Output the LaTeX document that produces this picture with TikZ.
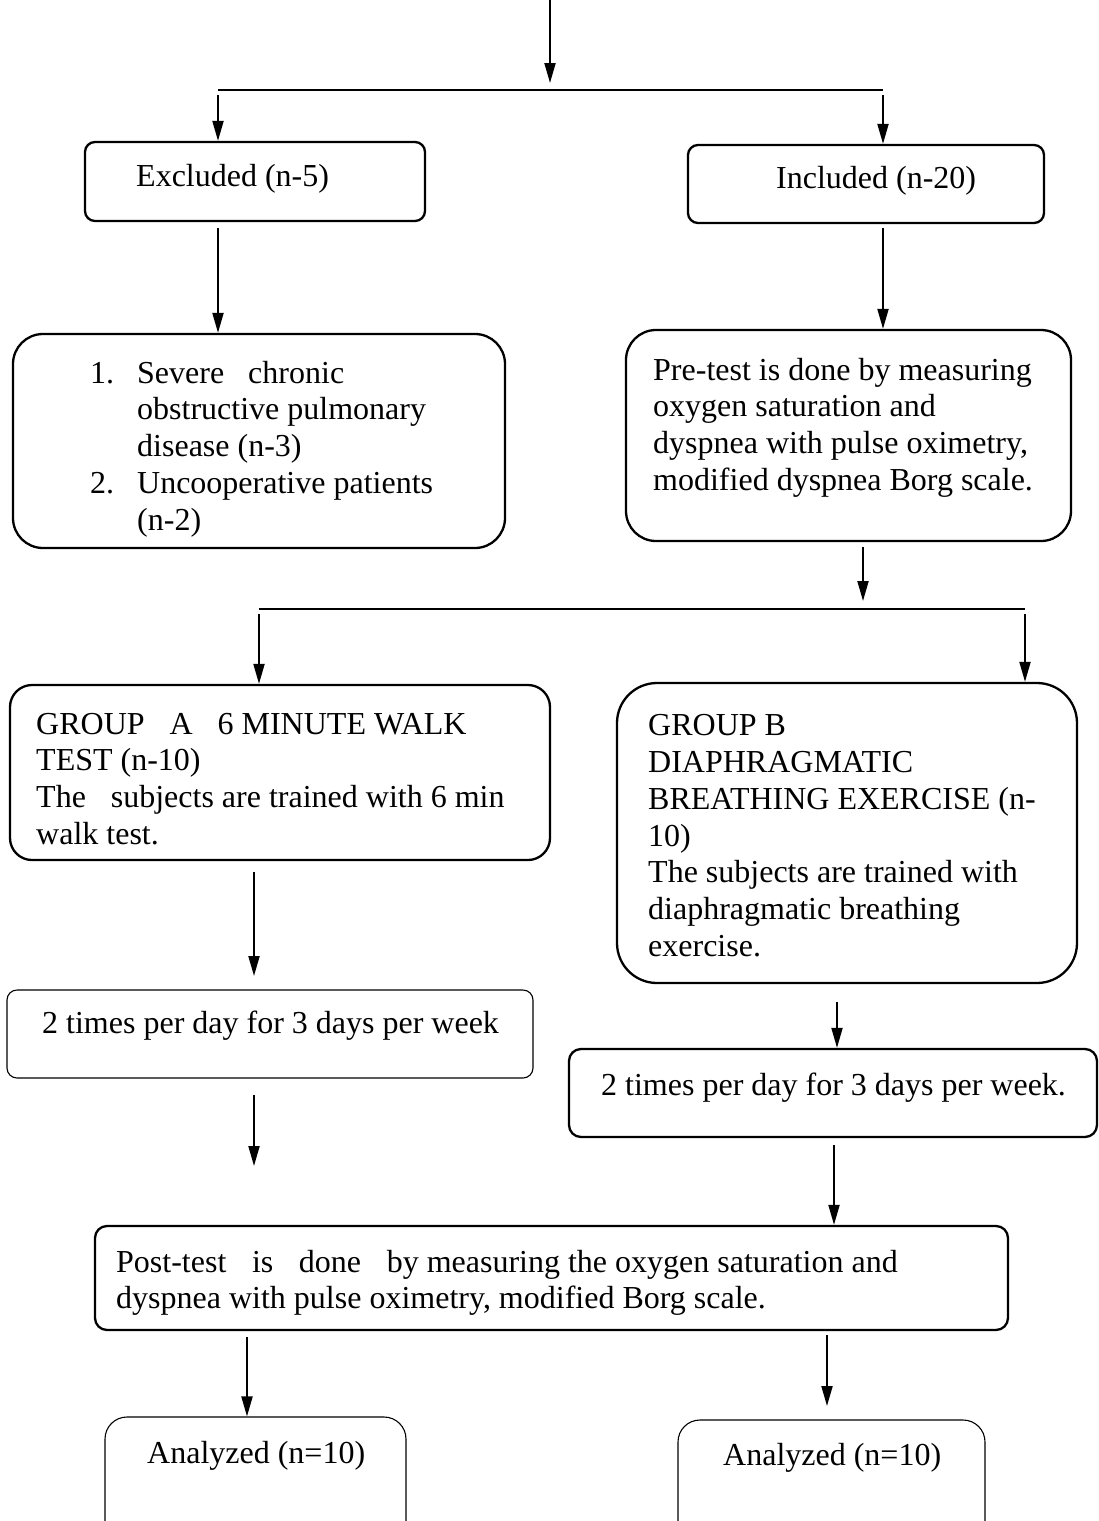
\documentclass[tikz,border=0pt]{standalone}
\usepackage{fontspec}
\setmainfont{Liberation Serif}
\usetikzlibrary{arrows.meta,calc}
\begin{document}
\begin{tikzpicture}[x=1pt,y=-1pt,
  box/.style={draw, line width=2.3pt, rounded corners=#1, inner sep=0pt},
  box/.default=10pt,
  thinbox/.style={draw, line width=1.1pt, rounded corners=#1, inner sep=0pt},
  thinbox/.default=10pt,
  txt/.style={inner sep=0pt, align=left, anchor=base west, font=\fontsize{32}{36.8}\selectfont},
  arr/.style={line width=2pt, -{Triangle[length=20pt,width=11pt]}},
  ln/.style={line width=2.5pt}]
\useasboundingbox (0,0) rectangle (1099,1521);
\clip (0,0) rectangle (1099,1521);

% boxes
\node[box, minimum width=340pt, minimum height=79pt] (excl) at (255,181.5) {};
\node[box, minimum width=356pt, minimum height=78pt] (incl) at (866,184) {};
\node[box=30pt, minimum width=492pt, minimum height=214pt] (list) at (259,441) {};
\node[box=30pt, minimum width=445pt, minimum height=211pt] (pre) at (848.5,435.5) {};
\node[box=22pt, minimum width=540pt, minimum height=175pt] (ga) at (280,772.5) {};
\node[box=40pt, minimum width=460pt, minimum height=300pt] (gb) at (847,833) {};
\node[thinbox, minimum width=526pt, minimum height=88pt] (ta) at (270,1034) {};
\node[box=12pt, minimum width=528pt, minimum height=88pt] (tb) at (833,1093) {};
\node[box=12pt, minimum width=913pt, minimum height=104pt] (post) at (551.5,1278) {};
\node[thinbox=22pt, minimum width=301pt, minimum height=128pt] (an1) at (255.5,1481) {};
\node[thinbox=22pt, minimum width=307pt, minimum height=125pt] (an2) at (831.5,1482.5) {};

% texts (anchor = baseline of the last line)
\node[txt] (excltxt) at (136,186) {Excluded (n-5)};
\node[txt] (incltxt) at (776,188) {Included (n-20)};
\node[txt] (listtxt) at (137,530.2) {\llap{1.\hspace{23pt}}Severe\hspace{0.75em}chronic\\obstructive pulmonary\\disease (n-3)\\\llap{2.\hspace{23pt}}Uncooperative patients\\(n-2)};
\node[txt] (pretxt) at (653,490.4) {Pre-test is done by measuring\\oxygen saturation and\\dyspnea with pulse oximetry,\\modified dyspnea Borg scale.};
\node[txt] (gatxt) at (36,844.5) {GROUP\hspace{0.78em}A\hspace{0.78em}6 MINUTE WALK\\TEST (n-10)\\The\hspace{0.78em}subjects are trained with 6 min\\walk test.};
\node[txt] (gbtxt) at (648,956.5) {GROUP B\\DIAPHRAGMATIC\\BREATHING EXERCISE (n-\\10)\\The subjects are trained with\\diaphragmatic breathing\\exercise.};
\node[txt] (tatxt) at (42,1033) {2 times per day for 3 days per week};
\node[txt] (tbtxt) at (601,1095) {2 times per day for 3 days per week.};
\node[txt] (posttxt) at (116,1308.8) {Post-test\hspace{0.8em}is\hspace{0.8em}done\hspace{0.8em}by measuring the oxygen saturation and\\dyspnea with pulse oximetry, modified Borg scale.};
\node[txt] (an1txt) at (147,1463) {Analyzed (n=10)};
\node[txt] (an2txt) at (723,1465) {Analyzed (n=10)};

% connectors
\coordinate (top) at (550,0);
\coordinate (j1) at (550,83);
\draw[arr] (top) -- (j1);
\coordinate (h1l) at (218,90);
\coordinate (h1r) at (883,90);
\draw[ln] (h1l) -- (h1r);
\coordinate (d1) at (218,95);
\coordinate (d2) at (883,95);
\draw[arr] (d1) -- (d1 |- excl.north);
\draw[arr] (d2) -- (d2 |- incl.north);
\coordinate (d3) at (218,228);
\coordinate (d4) at (883,228);
\draw[arr] (d3) -- (d3 |- list.north);
\draw[arr] (d4) -- (d4 |- pre.north);
\coordinate (d5) at (863,547);
\coordinate (j2) at (863,601);
\draw[arr] (d5) -- (j2);
\coordinate (h2l) at (259,609);
\coordinate (h2r) at (1025,609);
\draw[ln] (h2l) -- (h2r);
\coordinate (d6) at (259,614);
\coordinate (d7) at (1025,614);
\draw[arr] (d6) -- (d6 |- ga.north);
\draw[arr] (d7) -- (d7 |- gb.north);
\coordinate (d8) at (254,872);
\coordinate (e8) at (254,976);
\draw[arr] (d8) -- (e8);
\coordinate (d9) at (837,1002);
\draw[arr] (d9) -- (d9 |- tb.north);
\coordinate (d10) at (254,1095);
\coordinate (e10) at (254,1166);
\draw[arr] (d10) -- (e10);
\coordinate (d11) at (834,1145);
\draw[arr] (d11) -- (d11 |- post.north);
\coordinate (d12) at (247,1337);
\draw[arr] (d12) -- (d12 |- an1.north);
\coordinate (d13) at (827,1335);
\coordinate (e13) at (827,1406);
\draw[arr] (d13) -- (e13);
\end{tikzpicture}
\end{document}
